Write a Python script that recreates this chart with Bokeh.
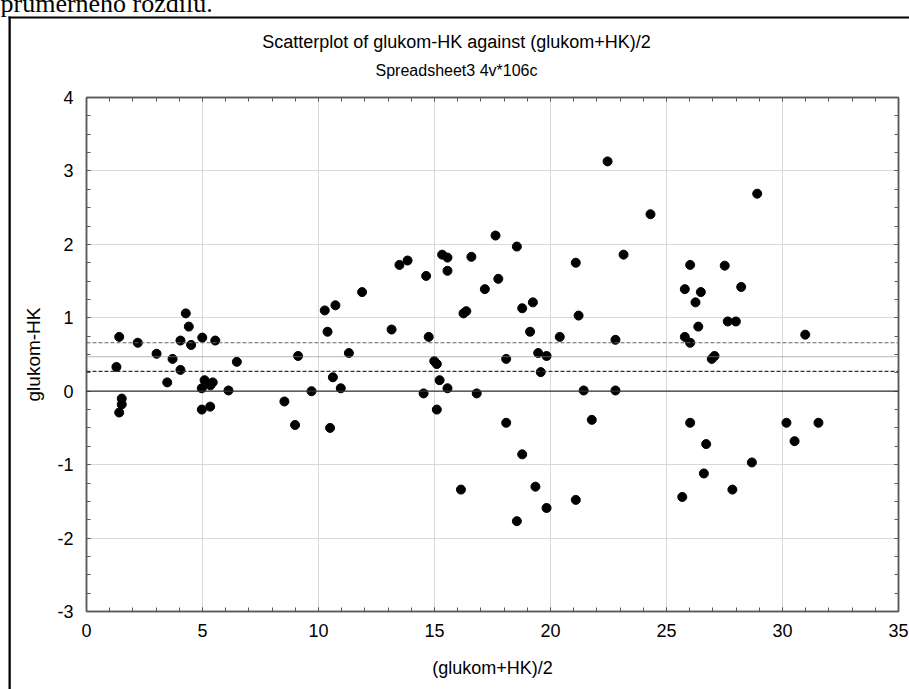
from bokeh.plotting import figure
from bokeh.models import (Range1d, LinearAxis, SingleIntervalTicker, Span, Label,
                          CustomJSTickFormatter)
from bokeh.embed import file_html
from bokeh.resources import INLINE

# ---- data: (glukom+HK)/2 and glukom-HK, 106 cases ----
mean_x = [1.41, 1.29, 1.52, 1.52, 1.41, 2.21, 3.02, 3.48, 3.71, 4.05, 4.05, 4.28, 4.41, 4.51,
          4.99, 5.09, 4.97, 5.34, 5.44, 4.97, 5.33, 5.55, 6.12, 6.48, 8.53, 8.99, 9.12,
          9.70, 10.27, 10.73, 10.39, 10.62, 10.96, 10.50, 11.31, 11.88, 13.15, 13.49, 13.84,
          14.64, 14.75, 14.53, 14.99, 15.10, 15.22, 15.56, 15.10, 15.33, 15.56, 15.56, 16.59,
          16.25, 16.37, 16.14, 16.82, 17.17, 17.63, 17.75, 18.09, 18.09,
          18.55, 18.78, 19.24, 19.12, 19.47, 19.83, 19.58, 18.78, 19.35, 19.83, 18.55, 20.40,
          21.09, 21.21, 21.43, 21.78, 21.09, 22.46, 23.15, 22.80, 22.80, 24.31, 26.02, 25.79,
          26.25, 26.48, 26.37, 25.79, 26.02, 26.02, 25.68, 26.61,
          28.91, 27.51, 28.22, 27.64, 27.99, 26.95, 27.07, 30.98, 26.71, 27.84, 28.68, 30.17,
          30.52, 31.55]
diff_y = [0.74, 0.33, -0.10, -0.18, -0.29, 0.66, 0.51, 0.12, 0.44, 0.69, 0.29, 1.06, 0.88, 0.63,
          0.73, 0.15, 0.04, 0.08, 0.12, -0.25, -0.21, 0.69, 0.01, 0.40, -0.14, -0.46, 0.48,
          0.00, 1.10, 1.17, 0.81, 0.19, 0.04, -0.50, 0.52, 1.35, 0.84, 1.72, 1.78,
          1.57, 0.74, -0.03, 0.41, 0.37, 0.15, 0.04, -0.25, 1.86, 1.82, 1.64, 1.83,
          1.06, 1.09, -1.34, -0.03, 1.39, 2.12, 1.53, 0.44, -0.43,
          1.97, 1.13, 1.21, 0.81, 0.52, 0.48, 0.26, -0.86, -1.30, -1.59, -1.77, 0.74,
          1.75, 1.03, 0.01, -0.39, -1.48, 3.13, 1.86, 0.70, 0.01, 2.41, 1.72, 1.39,
          1.21, 1.35, 0.88, 0.74, 0.66, -0.43, -1.44, -1.12,
          2.69, 1.71, 1.42, 0.95, 0.95, 0.44, 0.48, 0.77, -0.72, -1.34, -0.97, -0.43,
          -0.68, -0.43]

zero_line = 0.0
mean_line = 0.47
ci_lines = [0.27, 0.66]

x_ticks_step = 5
y_ticks_step = 1

title_text = "Scatterplot of glukom-HK against (glukom+HK)/2"
subtitle_text = "Spreadsheet3 4v*106c"
x_label = "(glukom+HK)/2"
y_label = "glukom-HK"
top_text = "průměrného rozdílu."

FONT = "Liberation Sans"
AX = "#5a5a5a"

p = figure(width=909, height=689, output_backend="svg", toolbar_location=None,
           x_range=Range1d(0, 35), y_range=Range1d(-3, 4),
           min_border_left=86, min_border_right=11, min_border_top=97, min_border_bottom=78,
           background_fill_color="white", border_fill_color="white")
p.outline_line_color = AX
p.outline_line_width = 1.5

hyphen_fmt = "return tick.toString();"

def style_axis(ax, labels=True):
    ax.axis_line_color = AX
    ax.axis_line_width = 1.5
    ax.major_tick_line_color = AX
    ax.minor_tick_line_color = AX
    ax.major_tick_in = 4
    ax.major_tick_out = 0
    ax.minor_tick_in = 4
    ax.minor_tick_out = 0
    ax.major_label_text_font = FONT
    ax.major_label_text_font_size = "18px"
    ax.major_label_text_color = "black"
    ax.axis_label_text_font = FONT
    ax.axis_label_text_font_size = "18px"
    ax.axis_label_text_font_style = "normal"
    ax.axis_label_text_color = "black"
    if labels:
        ax.formatter = CustomJSTickFormatter(code=hyphen_fmt)
    else:
        ax.formatter = CustomJSTickFormatter(code="return ''")
        ax.major_label_standoff = 0

xt = SingleIntervalTicker(interval=x_ticks_step, num_minor_ticks=5)
yt = SingleIntervalTicker(interval=y_ticks_step, num_minor_ticks=4)

p.xaxis.ticker = xt
p.yaxis.ticker = yt
style_axis(p.xaxis[0])
style_axis(p.yaxis[0])
p.xaxis.axis_label = x_label
p.yaxis.axis_label = y_label
p.yaxis.axis_label_text_font_size = "19px"
p.xaxis.major_label_standoff = 12
p.xaxis.axis_label_standoff = 18
p.yaxis.major_label_standoff = 13
p.yaxis.axis_label_standoff = 10

ra = LinearAxis(ticker=SingleIntervalTicker(interval=y_ticks_step, num_minor_ticks=4))
style_axis(ra, labels=False)
p.add_layout(ra, "right")
ta = LinearAxis(ticker=SingleIntervalTicker(interval=x_ticks_step, num_minor_ticks=5))
style_axis(ta, labels=False)
p.add_layout(ta, "above")

p.xgrid.ticker = xt
p.ygrid.ticker = yt
p.xgrid.grid_line_color = "#d9d9d9"
p.ygrid.grid_line_color = "#d9d9d9"

p.add_layout(Span(location=zero_line, dimension="width", line_color="#333333", line_width=1.3))
p.add_layout(Span(location=mean_line, dimension="width", line_color="#8a8a8a", line_width=1.2,
                  line_dash="1 1"))
p.add_layout(Span(location=ci_lines[0], dimension="width", line_color="#333333", line_width=1.2,
                  line_dash="4 2"))
p.add_layout(Span(location=ci_lines[1], dimension="width", line_color="#666666", line_width=1.2,
                  line_dash="4 2"))

p.scatter(mean_x, diff_y, size=9, color="black", marker="circle")

# outer frame of the embedded image: a thin top edge and a thin left edge
p.add_layout(Label(x=8, y=16, x_units="canvas", y_units="canvas", text=" ",
                   text_font=FONT, text_font_size="1px", text_align="left",
                   text_baseline="top", padding=(0, 1000, 1, 0),
                   background_fill_color="black", border_line_color=None), "above")
p.add_layout(Label(x=8, y=16, x_units="canvas", y_units="canvas", text=" ",
                   text_font=FONT, text_font_size="1px", text_align="left",
                   text_baseline="top", padding=(0, 2, 1000, 0),
                   background_fill_color="black", border_line_color=None), "left")

p.add_layout(Label(x=456, y=41, x_units="canvas", y_units="canvas", text=title_text,
                   text_font=FONT, text_font_size="18px", text_align="center",
                   text_baseline="middle", text_color="black"), "above")
p.add_layout(Label(x=456, y=70, x_units="canvas", y_units="canvas", text=subtitle_text,
                   text_font=FONT, text_font_size="16px", text_align="center",
                   text_baseline="middle", text_color="black"), "above")
p.add_layout(Label(x=0, y=3, x_units="canvas", y_units="canvas", text=top_text,
                   text_font="Liberation Serif", text_font_size="26px", text_align="left",
                   text_baseline="alphabetic", text_color="black"), "above")

open("out.html", "w").write(file_html(p, INLINE))
